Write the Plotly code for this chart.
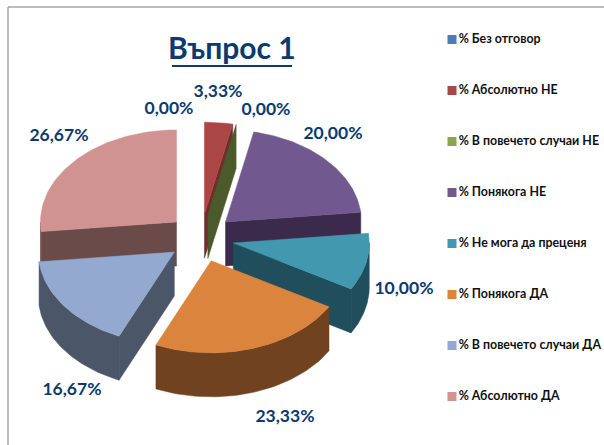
import math
import plotly.graph_objects as go

categories = ["% Без отговор", "% Абсолютно НЕ", "% В повечето случаи НЕ", "% Понякога НЕ",
              "% Не мога да преценя", "% Понякога ДА", "% В повечето случаи ДА", "% Абсолютно ДА"]
values = [0.00, 3.33, 0.00, 20.00, 10.00, 23.33, 16.67, 26.67]
title_text = "Въпрос 1"

top_colors = ["#4A7EBB", "#AA4643", "#89A54E", "#71588F", "#4198AF", "#DB843D", "#93A9CF", "#D19392"]
side_colors = ["#2C4D74", "#6F2D2B", "#4A5A2A", "#3B2A4C", "#214E5C", "#70421F", "#4B5668", "#6B4B4A"]

# projection of the tilted, exploded pie on the page
CX, CY, RX, RY, EX, EY, DEPTH = 201, 238, 136, 92, 33, 24, 44
DRAW_ORDER = [7, 0, 1, 2, 3, 4, 6, 5]
LABEL_XY = [(169, 110), (218, 93), (266, 111), (333, 135), (404, 290), (285, 418), (72, 391), (59, 137)]
LABEL_COLOR = "#0B3A6E"
FONT = "Lato"

total = sum(values)
starts, cum = [], 0.0
for v in values:
    starts.append(cum / total * 2 * math.pi)
    cum += v
ends = [s + v / total * 2 * math.pi for s, v in zip(starts, values)]


def rim(ax, ay, angle, dy=0):
    return ax + RX * math.sin(angle), ay - RY * math.cos(angle) + dy


def arc(a, b, n=60):
    return [a + (b - a) * k / n for k in range(n + 1)]


def poly(fig, pts, color):
    xs = [p[0] for p in pts] + [pts[0][0]]
    ys = [p[1] for p in pts] + [pts[0][1]]
    fig.add_trace(go.Scatter(x=xs, y=ys, mode="lines", fill="toself", fillcolor=color,
                             line=dict(color=color, width=0.5), hoverinfo="skip", showlegend=False))


fig = go.Figure()
for i in DRAW_ORDER:
    a, b = starts[i], ends[i]
    mid = (a + b) / 2
    ax = CX + EX * math.sin(mid)
    ay = CY - EY * math.cos(mid)
    side = side_colors[i]
    # outer wall, only the part facing the viewer
    lo, hi = max(a, math.pi / 2), min(b, 3 * math.pi / 2)
    if hi > lo:
        t = arc(lo, hi)
        poly(fig, [rim(ax, ay, x) for x in t] + [rim(ax, ay, x, DEPTH) for x in reversed(t)], side)
    # cut faces, only those turned to the viewer
    for ang, visible in ((a, math.sin(a) < -1e-6), (b, math.sin(b) > 1e-6)):
        if visible:
            poly(fig, [(ax, ay), rim(ax, ay, ang), rim(ax, ay, ang, DEPTH), (ax, ay + DEPTH)], side)
    # top face
    if b > a:
        poly(fig, [(ax, ay)] + [rim(ax, ay, x) for x in arc(a, b)], top_colors[i])

# data labels
fig.add_trace(go.Scatter(
    x=[p[0] for p in LABEL_XY], y=[p[1] for p in LABEL_XY], mode="text",
    text=[f"{v:.2f}".replace(".", ",") + "%" for v in values],
    textposition="middle center",
    textfont=dict(family=FONT, size=17.5, color=LABEL_COLOR, weight="bold"),
    hoverinfo="skip", showlegend=False))

# legend column
for i, name in enumerate(categories):
    y = 39.5 + 51 * i
    fig.add_trace(go.Scatter(
        x=[452], y=[y], mode="markers+text", text=[name],
        textposition="middle right",
        marker=dict(symbol="square", size=9, color=top_colors[i]),
        textfont=dict(family=FONT, size=12.4, color="#111111", weight="bold"),
        hoverinfo="skip", showlegend=False))

fig.add_annotation(x=232, y=47, xref="x", yref="y", text="<b>" + title_text + "</b>", showarrow=False,
                   font=dict(family=FONT, size=30, color=LABEL_COLOR))
fig.add_shape(type="line", x0=172, x1=292, y0=66, y1=66, xref="x", yref="y",
              line=dict(color=LABEL_COLOR, width=2))
# chart frame
fig.add_shape(type="line", x0=8, x1=8, y0=7, y1=445, xref="x", yref="y", line=dict(color="#A6A6A6", width=1.5))
fig.add_shape(type="line", x0=8, x1=604, y0=7, y1=7, xref="x", yref="y", line=dict(color="#A6A6A6", width=1.5))

fig.update_layout(
    width=604, height=445, margin=dict(l=0, r=0, t=0, b=0),
    paper_bgcolor="white", plot_bgcolor="white", showlegend=False,
    xaxis=dict(range=[0, 604], visible=False, fixedrange=True),
    yaxis=dict(range=[445, 0], visible=False, fixedrange=True),
)
fig.write_html("out.html", config=dict(displayModeBar=False),
               post_script="document.body.style.margin='0';")
